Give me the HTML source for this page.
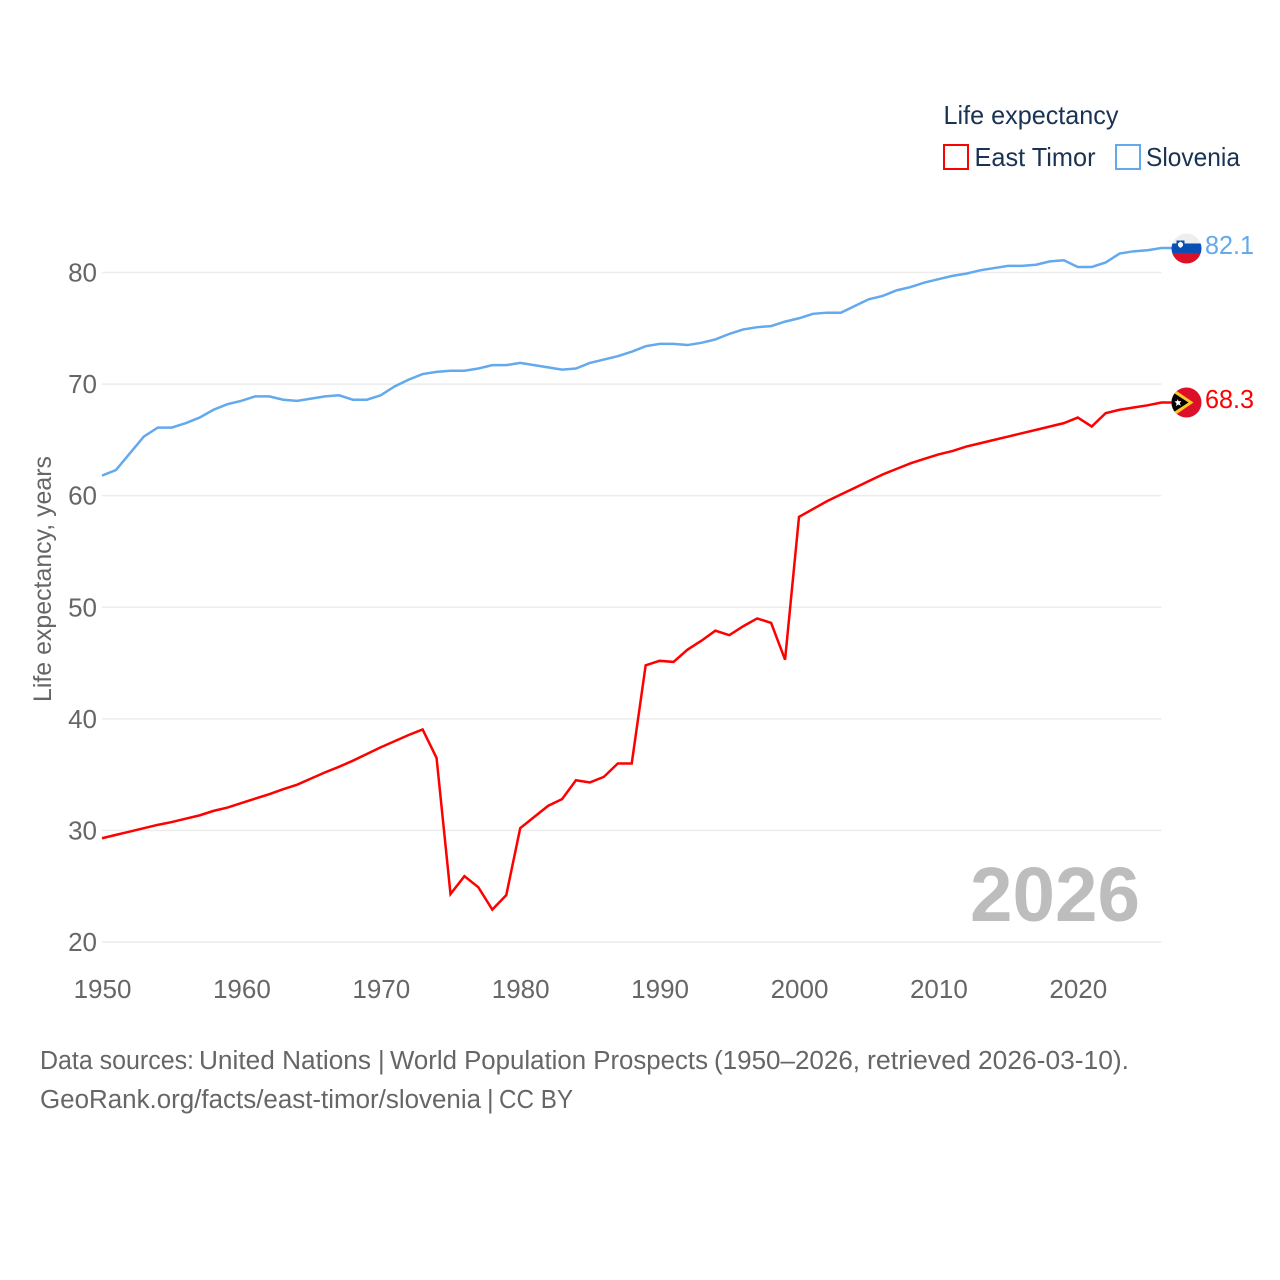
<!DOCTYPE html>
<html lang="en">
<head>
<meta charset="utf-8">
<title>Life expectancy: East Timor and Slovenia</title>
<style>
html,body{margin:0;padding:0;background:#fff;}
svg{display:block;font-family:"Liberation Sans",sans-serif;}
</style>
</head>
<body>
<svg id="chart" xmlns="http://www.w3.org/2000/svg" width="1280" height="1280" viewBox="0 0 1280 1280">
  <rect width="1280" height="1280" fill="#ffffff"/>
  <defs>
    <clipPath id="flag-clip"><circle cx="0" cy="0" r="15"/></clipPath>
  </defs>
  <g id="grid"></g>
  <g id="ticks"></g>
  <text transform="translate(51,702) rotate(-90)" font-size="25" fill="#666666" textLength="246" lengthAdjust="spacingAndGlyphs">Life expectancy, years</text>
  <text x="970" y="921" font-size="77" font-weight="700" fill="#bdbdbd" textLength="170" lengthAdjust="spacingAndGlyphs">2026</text>
  <g id="series"></g>

  <g id="flag-east-timor">
    <g clip-path="url(#flag-clip)">
      <rect x="-15" y="-15" width="30" height="30" fill="#dc1029"/>
      <polygon points="-15,-15 7,0 -15,15" fill="#ffc726"/>
      <polygon points="-15,-11 2,0 -15,11" fill="#000000"/>
      <polygon points="-9,-3.5 -7.8,-1.2 -5,-1.5 -6.8,0.5 -5.6,3.2 -8.2,2 -10.4,3.6 -10,0.8 -12,-1 -9.4,-1.4" fill="#ffffff"/>
    </g>
  </g>
  <g id="flag-slovenia">
    <g clip-path="url(#flag-clip)">
      <rect x="-15" y="-15" width="30" height="11" fill="#eeeeee"/>
      <rect x="-15" y="-5" width="30" height="10" fill="#0a50b4"/>
      <rect x="-15" y="5" width="30" height="10" fill="#dc1029"/>
      <path d="M-10,-8 h8 v5 q-1,3 -4,4 q-3,-1 -4,-4 z" fill="#0a50b4"/>
      <path d="M-8.5,-5 l2.5,-2 l2.5,2 v2 q-.8,1.6 -2.5,2.4 q-1.7,-.8 -2.5,-2.4 z" fill="#ffffff"/>
    </g>
  </g>
  <g id="end-labels"></g>

  <g>
    <text x="943.5" y="124" font-size="26" fill="#1a3353" textLength="175" lengthAdjust="spacingAndGlyphs">Life expectancy</text>
    <g>
      <rect x="944" y="145" width="24" height="24" fill="#ffffff" stroke="#ff0000" stroke-width="2"/>
      <text x="974.5" y="166" font-size="26" fill="#1a3353" textLength="121" lengthAdjust="spacingAndGlyphs">East Timor</text>
    </g>
    <g>
      <rect x="1116" y="145" width="24" height="24" fill="#ffffff" stroke="#62a9ee" stroke-width="2"/>
      <text x="1146" y="166" font-size="26" fill="#1a3353" textLength="94" lengthAdjust="spacingAndGlyphs">Slovenia</text>
    </g>
  </g>

  <text y="1069" font-size="25.5" fill="#666666" lengthAdjust="spacingAndGlyphs"><tspan x="40" textLength="154" lengthAdjust="spacingAndGlyphs">Data sources:</tspan> <tspan x="199" textLength="172" lengthAdjust="spacingAndGlyphs">United Nations</tspan> <tspan x="378">|</tspan> <tspan x="390" textLength="318" lengthAdjust="spacingAndGlyphs">World Population Prospects</tspan> <tspan x="714" textLength="146" lengthAdjust="spacingAndGlyphs">(1950–2026,</tspan> <tspan x="867" textLength="104" lengthAdjust="spacingAndGlyphs">retrieved</tspan> <tspan x="978" textLength="151" lengthAdjust="spacingAndGlyphs">2026-03-10).</tspan></text>
  <text y="1108" font-size="25.5" fill="#666666"><tspan x="40" textLength="441" lengthAdjust="spacingAndGlyphs">GeoRank.org/facts/east-timor/slovenia</tspan> <tspan x="487">|</tspan> <tspan x="499" textLength="74" lengthAdjust="spacingAndGlyphs">CC BY</tspan></text>
</svg>
<script>
const firstYear = 1950;
const xTickValues = [1950, 1960, 1970, 1980, 1990, 2000, 2010, 2020];
const yTickValues = [20, 30, 40, 50, 60, 70, 80];
const eastTimorValues = [
  29.3, 29.6, 29.9, 30.2, 30.5, 30.75, 31.05, 31.35, 31.75, 32.05,
  32.45, 32.85, 33.25, 33.7, 34.1, 34.65, 35.2, 35.7, 36.25, 36.85,
  37.45, 38.0, 38.55, 39.05, 36.5, 24.3, 25.9, 24.9, 22.9, 24.2,
  30.2, 31.2, 32.2, 32.8, 34.5, 34.3, 34.8, 36.0, 36.0, 44.8,
  45.2, 45.1, 46.2, 47.0, 47.9, 47.5, 48.3, 49.0, 48.6, 45.3,
  58.1, 58.8, 59.5, 60.1, 60.7, 61.3, 61.9, 62.4, 62.9, 63.3,
  63.7, 64.0, 64.4, 64.7, 65.0, 65.3, 65.6, 65.9, 66.2, 66.5,
  67.0, 66.2, 67.4, 67.7, 67.9, 68.1, 68.35
];
const sloveniaValues = [
  61.8, 62.3, 63.8, 65.3, 66.1, 66.1, 66.5, 67.0, 67.7, 68.2,
  68.5, 68.9, 68.9, 68.6, 68.5, 68.7, 68.9, 69.0, 68.6, 68.6,
  69.0, 69.8, 70.4, 70.9, 71.1, 71.2, 71.2, 71.4, 71.7, 71.7,
  71.9, 71.7, 71.5, 71.3, 71.4, 71.9, 72.2, 72.5, 72.9, 73.4,
  73.6, 73.6, 73.5, 73.7, 74.0, 74.5, 74.9, 75.1, 75.2, 75.6,
  75.9, 76.3, 76.4, 76.4, 77.0, 77.6, 77.9, 78.4, 78.7, 79.1,
  79.4, 79.7, 79.9, 80.2, 80.4, 80.6, 80.6, 80.7, 81.0, 81.1,
  80.5, 80.5, 80.9, 81.7, 81.9, 82.0, 82.2
];
const eastTimorLabel = "68.3";
const sloveniaLabel = "82.1";

const NS = "http://www.w3.org/2000/svg";
function xScale(year) { return 102 + (year - 1950) * 13.94; }
function yScale(value) { return 942 - (value - 20) * 11.158; }
function make(tag, parent) {
  const node = document.createElementNS(NS, tag);
  parent.appendChild(node);
  return node;
}
function linePath(values) {
  const points = values.map(function (v, i) {
    return (i ? "L" : "M") + xScale(firstYear + i).toFixed(2) + " " + yScale(v).toFixed(2);
  });
  // short leader from the last point to the flag marker
  points.push("L1172 " + yScale(values[values.length - 1]).toFixed(2));
  return points.join(" ");
}

const gridLayer = document.getElementById("grid");
const tickLayer = document.getElementById("ticks");
const seriesLayer = document.getElementById("series");
const labelLayer = document.getElementById("end-labels");

yTickValues.forEach(function (v) {
  const gridLine = make("line", gridLayer);
  
  
  gridLine.setAttribute("x1", 102);
  gridLine.setAttribute("x2", 1161.5);
  gridLine.setAttribute("y1", yScale(v));
  gridLine.setAttribute("y2", yScale(v));
  gridLine.setAttribute("stroke", "#ececec");
  gridLine.setAttribute("stroke-width", 1.5);

  const yLabel = make("text", tickLayer);
  
  
  yLabel.setAttribute("x", 97);
  yLabel.setAttribute("y", yScale(v) + 9);
  yLabel.setAttribute("text-anchor", "end");
  yLabel.setAttribute("font-size", 26);
  yLabel.setAttribute("fill", "#666666");
  yLabel.textContent = String(v);
});

xTickValues.forEach(function (year) {
  const xLabel = make("text", tickLayer);
  
  
  xLabel.setAttribute("x", xScale(year) + 0.5);
  xLabel.setAttribute("y", 998);
  xLabel.setAttribute("text-anchor", "middle");
  xLabel.setAttribute("font-size", 26);
  xLabel.setAttribute("fill", "#666666");
  xLabel.textContent = String(year);
});

const eastTimorLine = make("path", seriesLayer);


eastTimorLine.setAttribute("d", linePath(eastTimorValues));
eastTimorLine.setAttribute("fill", "none");
eastTimorLine.setAttribute("stroke", "#ff0000");
eastTimorLine.setAttribute("stroke-width", 2.5);

const sloveniaLine = make("path", seriesLayer);


sloveniaLine.setAttribute("d", linePath(sloveniaValues));
sloveniaLine.setAttribute("fill", "none");
sloveniaLine.setAttribute("stroke", "#62a9ee");
sloveniaLine.setAttribute("stroke-width", 2.5);

const lastEast = eastTimorValues[eastTimorValues.length - 1];
const lastSlovenia = sloveniaValues[sloveniaValues.length - 1];
document.getElementById("flag-east-timor").setAttribute("transform", "translate(1186.5," + yScale(lastEast) + ")");
document.getElementById("flag-slovenia").setAttribute("transform", "translate(1186.5," + (yScale(lastSlovenia) + 0.5) + ")");

const eastEndLabel = make("text", labelLayer);


eastEndLabel.setAttribute("x", 1205);
eastEndLabel.setAttribute("y", yScale(lastEast) + 5.5);
eastEndLabel.setAttribute("font-size", 26);
eastEndLabel.setAttribute("fill", "#ff0000");
eastEndLabel.setAttribute("textLength", 49);
eastEndLabel.setAttribute("lengthAdjust", "spacingAndGlyphs");
eastEndLabel.textContent = eastTimorLabel;

const sloveniaEndLabel = make("text", labelLayer);


sloveniaEndLabel.setAttribute("x", 1205);
sloveniaEndLabel.setAttribute("y", yScale(lastSlovenia) + 6);
sloveniaEndLabel.setAttribute("font-size", 26);
sloveniaEndLabel.setAttribute("fill", "#62a9ee");
sloveniaEndLabel.setAttribute("textLength", 49);
sloveniaEndLabel.setAttribute("lengthAdjust", "spacingAndGlyphs");
sloveniaEndLabel.textContent = sloveniaLabel;
</script>
</body>
</html>
